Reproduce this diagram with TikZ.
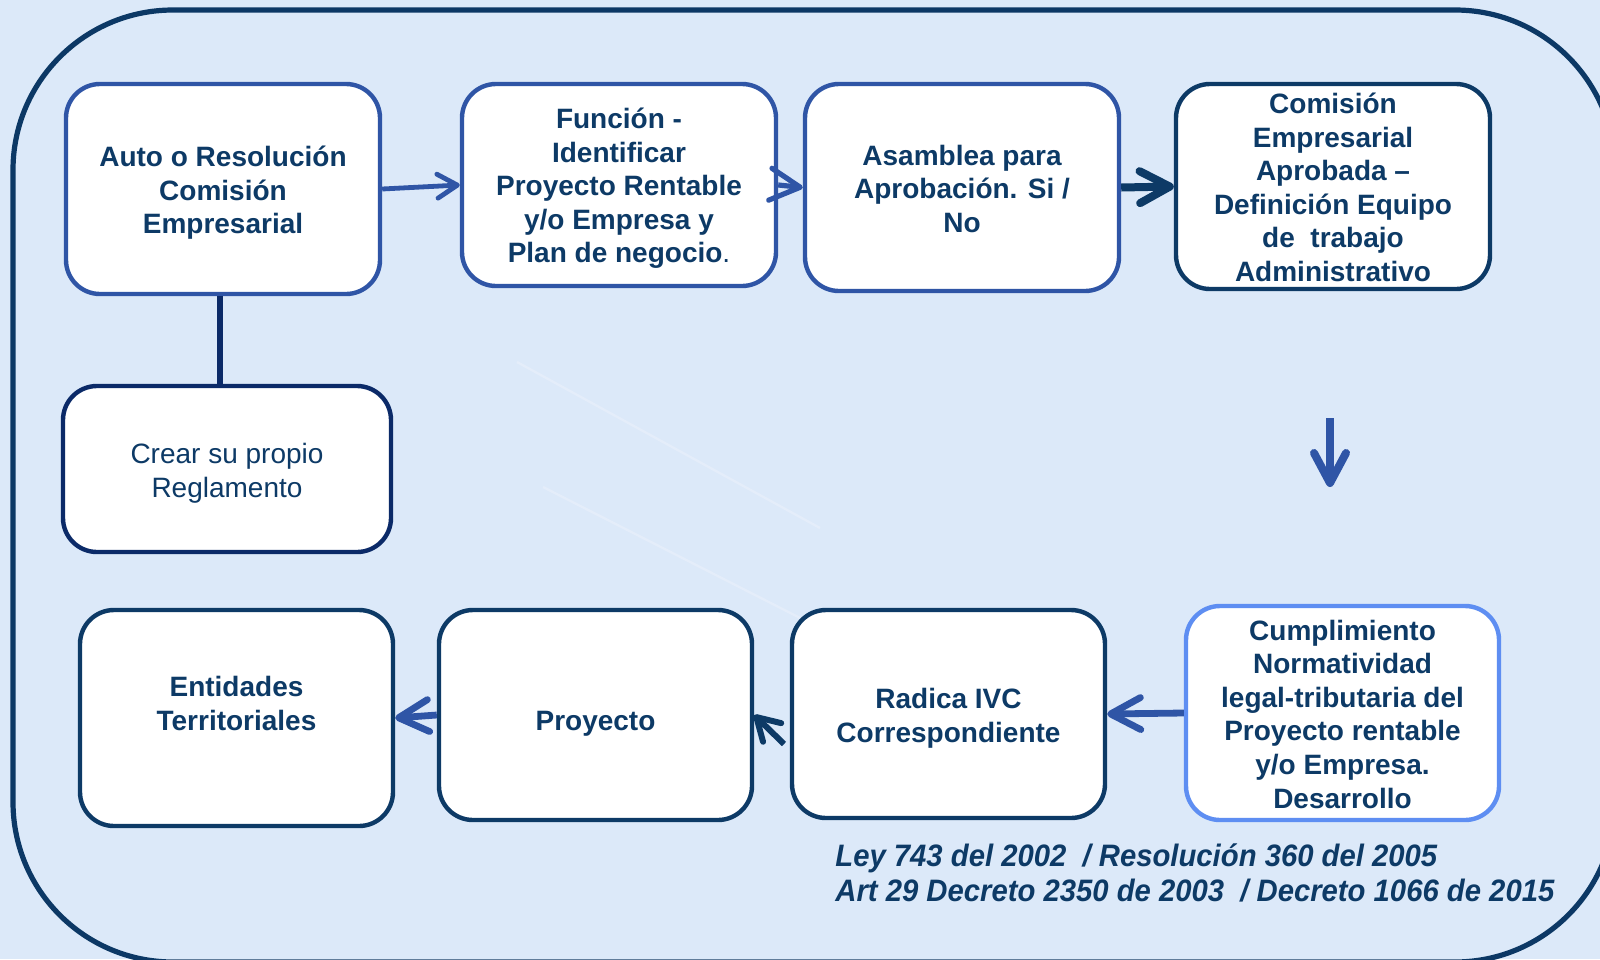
\documentclass[tikz,border=0pt]{standalone}
\usepackage{fontspec}
\setmainfont{Liberation Sans}
\newfontfamily\lawfont[FakeStretch=0.944]{Liberation Sans}
\usetikzlibrary{arrows.meta}
\definecolor{bgc}{HTML}{DCE9F9}
\definecolor{framec}{HTML}{0C3865}
\definecolor{midblue}{HTML}{2F55A6}
\definecolor{navy}{HTML}{0D3A66}
\definecolor{deepnavy}{HTML}{0B2A68}
\definecolor{lightblue}{HTML}{5E8EF2}
\definecolor{txt}{HTML}{0D3A66}
\definecolor{ghost}{HTML}{E4EDFA}
\begin{document}
\begin{tikzpicture}[x=0.5pt,y=-0.5pt,
  box/.style={draw, fill=white, line width=2.2pt, rounded corners=17pt, inner sep=0pt},
  txtb/.style={inner sep=0pt, align=center, text=txt,
    font=\fontsize{14}{16.8}\selectfont\bfseries},
  txtp/.style={txtb, font=\fontsize{14}{16.8}\selectfont},
  thinarr/.style={midblue, line width=2.4pt, -{Straight Barb[length=10pt,width=12pt,round]}},
  midarr/.style={midblue, line width=3.4pt, -{Straight Barb[length=15pt,width=16pt,round]}},
  darkarr/.style={navy, line width=4pt, -{Straight Barb[length=15pt,width=16pt,round]}},
  smallarr/.style={navy, line width=3pt, -{Straight Barb[length=11pt,width=13pt,round]}},
  ghostline/.style={ghost, line width=1.2pt},
  lawtext/.style={anchor=west, align=left, text=txt, inner sep=0pt,
    font=\lawfont\bfseries\itshape\fontsize{15.5}{17.5}\selectfont}
]
\useasboundingbox (0,0) rectangle (1600,959);
\clip (0,0) rectangle (1600,959);
\fill[bgc] (0,0) rectangle (1600,959);
\draw[framec, line width=2.6pt, rounded corners=80pt] (13,10) rectangle (1615,962);

% faint ghost lines
\coordinate (g1a) at (517,362); \coordinate (g1b) at (820,528);
\coordinate (g2a) at (543,487); \coordinate (g2b) at (808,622);
\draw[ghostline] (g1a) -- (g1b);
\draw[ghostline] (g2a) -- (g2b);

% boxes
\node[box, draw=midblue, minimum width=157pt, minimum height=105pt] (b1) at (223,189) {};
\node[txtb] (b1t) at ([yshift=-2pt]b1.center)
  {Auto o Resolución\\Comisión\\Empresarial};
\node[box, draw=midblue, minimum width=157pt, minimum height=101pt] (b2) at (619,185) {};
\node[txtb] (b2t) at ([yshift=-1.7pt]b2.center)
  {Función -\\Identificar\\Proyecto Rentable\\y/o Empresa y\\Plan de negocio\textmd{.}};
\node[box, draw=midblue, minimum width=157pt, minimum height=103.5pt] (b3) at (962,187.5) {};
\node[txtb] (b3t) at ([yshift=-0.6pt]b3.center)
  {Asamblea para\\Aprobación. Si /\\No};
\node[box, draw=navy, minimum width=157pt, minimum height=102.5pt] (b4) at (1333,186.5) {};
\node[txtb] (b4t) at ([yshift=-0.4pt]b4.center)
  {Comisión\\Empresarial\\Aprobada –\\Definición Equipo\\de\ \ trabajo\\Administrativo};
\node[box, draw=deepnavy, minimum width=164pt, minimum height=83pt] (b5) at (227,469) {};
\node[txtp] (b5t) at ([yshift=-2pt]b5.center)
  {Crear su propio\\Reglamento};
\node[box, draw=navy, minimum width=156.5pt, minimum height=108pt] (b6) at (236.5,718) {};
\node[txtb] (b6t) at ([yshift=7.2pt]b6.center)
  {Entidades\\Territoriales};
\node[box, draw=navy, minimum width=156.5pt, minimum height=105pt] (b7) at (595.5,715) {};
\node[txtb] (b7t) at ([yshift=-4.4pt]b7.center)
  {Proyecto};
\node[box, draw=navy, minimum width=156.5pt, minimum height=104pt] (b8) at (948.5,714) {};
\node[txtb] (b8t) at ([yshift=-2pt]b8.center)
  {Radica IVC\\Correspondiente};
\node[box, draw=lightblue, minimum width=156.5pt, minimum height=107pt] (b9) at (1342.5,713) {};
\node[txtb] (b9t) at ([yshift=-0.5pt]b9.center)
  {Cumplimiento\\Normatividad\\legal-tributaria del\\Proyecto rentable\\y/o Empresa.\\Desarrollo};

% connectors
\draw[thinarr] (b1.east) -- (b2.west);
\draw[midarr, line width=2.6pt] (b2.east) -- (b3.west);
\draw[darkarr] (b3.east) -- (b4.west);
\draw[deepnavy, line width=3pt] ([xshift=-1.5pt]b1.south) -- ([xshift=-1.5pt]b1.south |- b5.north);
\coordinate (d1) at (1330,418);
\coordinate (d2) at (1330,487);
\draw[midarr, line width=4pt] (d1) -- (d2);
\draw[midarr] (b9.west) -- (b8.east);
\coordinate (t7) at (784,744);
\draw[smallarr] (t7) -- (b7.east);
\draw[midarr] (b7.west) -- (b6.east);

% legal text
\node[lawtext] (law) at (835,872.5)
  {Ley 743 del 2002\ \ / Resolución 360 del 2005\\Art 29 Decreto 2350 de 2003\ \ / Decreto 1066 de 2015};
\end{tikzpicture}
\end{document}
